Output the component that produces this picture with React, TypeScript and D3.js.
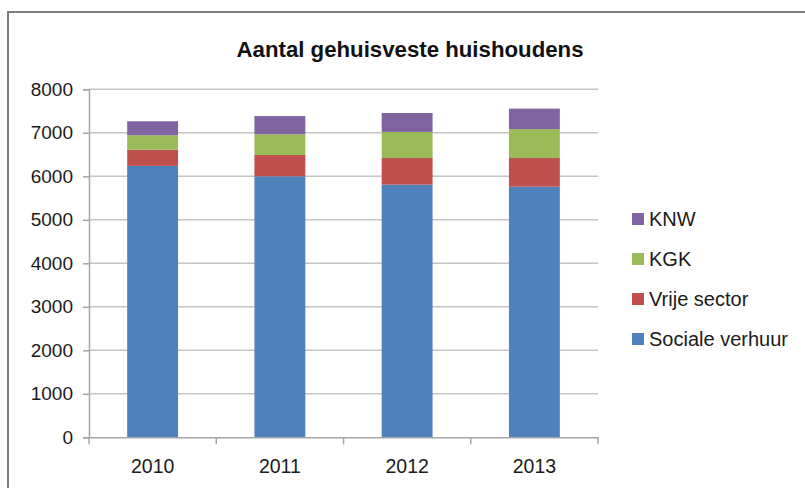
import React, { useEffect, useRef } from "react";
import * as d3 from "d3";

// years on the x axis
const years = ["2010", "2011", "2012", "2013"];
// series, bottom to top of the stack
const seriesNames = ["Sociale verhuur", "Vrije sector", "KGK", "KNW"];
const socialeVerhuur = [6240, 6000, 5810, 5760];
const vrijeSector = [370, 490, 610, 660];
const kgk = [335, 475, 600, 665];
const knw = [320, 420, 435, 470];
const yTicks = [0, 1000, 2000, 3000, 4000, 5000, 6000, 7000, 8000];
const colors = ["#4f81bd", "#c0504d", "#9bbb59", "#8064a2"];

const App = () => {
  const ref = useRef<SVGSVGElement | null>(null);

  useEffect(() => {
    document.body.style.margin = "0";
    const svg = d3.select(ref.current);
    svg.selectAll("*").remove();

    const font = "'Liberation Sans', Arial, sans-serif";
    const textColor = "#1a1a1a";

    // outer chart frame (only left and top edges are visible)
    svg
      .append("path")
      .attr("d", "M8,488 L8,12 L805,12")
      .attr("fill", "none")
      .attr("stroke", "#7f7f7f")
      .attr("stroke-width", 2);

    const left = 89;
    const right = 598;
    const top = 89.3;
    const bottom = 437.3;

    const x = d3.scaleBand().domain(years).range([left, right]).paddingInner(0).paddingOuter(0);
    const y = d3.scaleLinear().domain([0, 8000]).range([bottom, top]);

    // gridlines
    svg
      .append("g")
      .selectAll("line")
      .data(yTicks.filter((d) => d > 0))
      .join("line")
      .attr("x1", left)
      .attr("x2", right)
      .attr("y1", (d) => y(d))
      .attr("y2", (d) => y(d))
      .attr("stroke", "#c4c4c4")
      .attr("stroke-width", 1.5);

    // stacked bars
    const rows = years.map((yr, i) => ({
      year: yr,
      "Sociale verhuur": socialeVerhuur[i],
      "Vrije sector": vrijeSector[i],
      KGK: kgk[i],
      KNW: knw[i],
    }));
    const stacked = d3.stack<any>().keys(seriesNames)(rows);
    const barW = x.bandwidth() / 2.5;

    svg
      .append("g")
      .selectAll("g")
      .data(stacked)
      .join("g")
      .attr("fill", (_, i) => colors[i])
      .selectAll("rect")
      .data((s) => s)
      .join("rect")
      .attr("x", (d: any) => x(d.data.year)! + (x.bandwidth() - barW) / 2)
      .attr("width", barW)
      .attr("y", (d) => y(d[1]))
      .attr("height", (d) => y(d[0]) - y(d[1]));

    // y axis
    const yAxis = svg
      .append("g")
      .attr("transform", `translate(${left},0)`)
      .call(d3.axisLeft(y).tickValues(yTicks).tickSize(6).tickPadding(10).tickFormat(d3.format("d")));
    yAxis.select(".domain").attr("stroke", "#a6a6a6").attr("stroke-width", 1.5);
    yAxis.selectAll(".tick line").attr("stroke", "#a6a6a6").attr("stroke-width", 1.5);
    yAxis
      .selectAll("text")
      .attr("fill", textColor)
      .style("font-family", font)
      .style("font-size", "19px");

    // x axis
    const xAxis = svg
      .append("g")
      .attr("transform", `translate(0,${bottom})`)
      .call(d3.axisBottom(x).tickSize(0).tickPadding(22));
    xAxis.select(".domain").attr("stroke", "#a6a6a6").attr("stroke-width", 1.5);
    xAxis
      .selectAll("text")
      .attr("fill", textColor)
      .style("font-family", font)
      .style("font-size", "19.5px");
    // category boundary ticks
    xAxis
      .append("g")
      .selectAll("line")
      .data([...years.map((d) => x(d)!), right])
      .join("line")
      .attr("x1", (d) => d)
      .attr("x2", (d) => d)
      .attr("y1", 0)
      .attr("y2", 7)
      .attr("stroke", "#a6a6a6")
      .attr("stroke-width", 1.5);

    // title
    svg
      .append("text")
      .attr("x", 410)
      .attr("y", 57)
      .attr("text-anchor", "middle")
      .attr("fill", "#111")
      .style("font-family", font)
      .style("font-size", "22px")
      .style("font-weight", "bold")
      .attr("textLength", 347)
      .attr("lengthAdjust", "spacingAndGlyphs")
      .text("Aantal gehuisveste huishoudens");

    // legend, top entry is the top of the stack
    const legendOrder = seriesNames.map((n, i) => ({ n, c: colors[i] })).reverse();
    const lg = svg
      .append("g")
      .selectAll("g")
      .data(legendOrder)
      .join("g")
      .attr("transform", (_, i) => `translate(632,${219 + i * 40})`);
    lg.append("rect")
      .attr("x", 0)
      .attr("y", -6)
      .attr("width", 12)
      .attr("height", 12)
      .attr("fill", (d) => d.c);
    lg.append("text")
      .attr("x", 17)
      .attr("y", 0)
      .attr("dy", "0.35em")
      .attr("fill", textColor)
      .style("font-family", font)
      .style("font-size", "20px")
      .text((d) => d.n);
  }, []);

  return <svg ref={ref} width={805} height={488} style={{ display: "block", background: "#fff" }} />;
};

export default App;
